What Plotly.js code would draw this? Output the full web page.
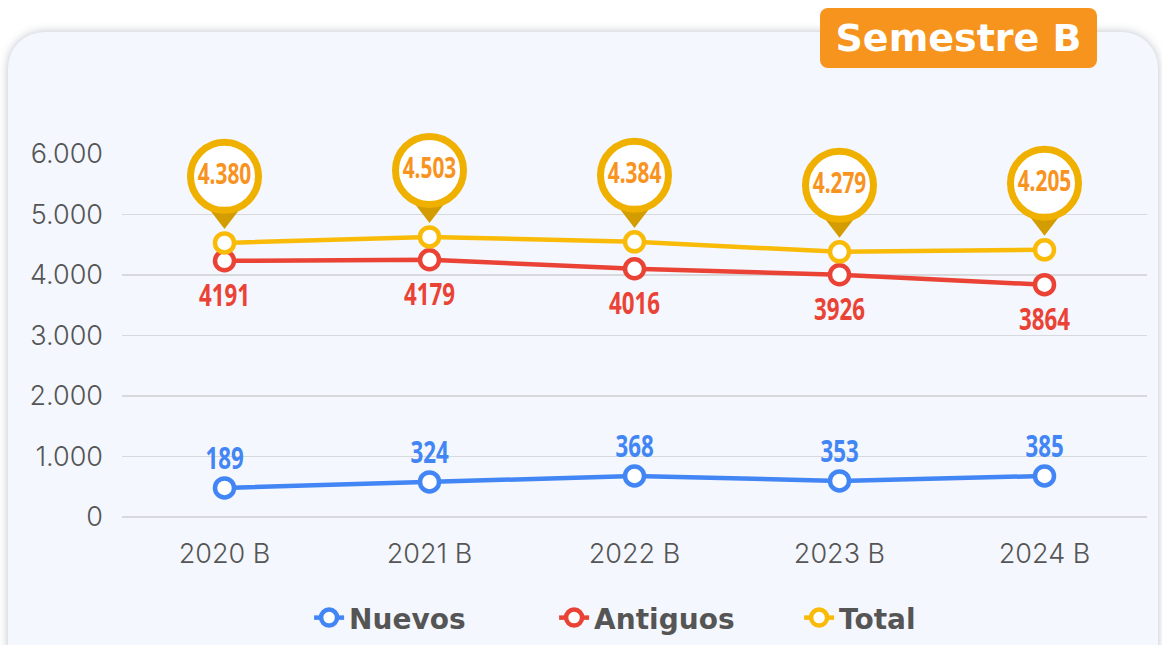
<!DOCTYPE html>
<html>
<head>
<meta charset="utf-8">
<script src="https://cdn.plot.ly/plotly-3.0.1.min.js"></script>
<style>
  html, body { margin:0; padding:0; background:#ffffff; width:1162px; height:645px; overflow:hidden; }
  #card { position:absolute; left:8px; top:32px; width:1150px; height:650px; border-radius:36px;
          background:#f4f7fd; box-shadow:0 0 10px rgba(70,80,100,0.35); }
  #chart { position:absolute; left:0; top:0; width:1162px; height:645px; }
  #badge { position:absolute; left:820px; top:8px; width:277px; height:60px; border-radius:8px;
           background:#f7941d; color:#ffffff; font-family:"DejaVu Sans", sans-serif; font-weight:bold;
           font-size:38px; line-height:60px; text-align:center; }
</style>
</head>
<body>
<div id="card"></div>
<div id="chart"></div>
<div id="badge">Semestre B</div>
<script>
// ---- data ----
const categories = ['2020 B', '2021 B', '2022 B', '2023 B', '2024 B'];
// plotted positions of the markers (y-axis units)
const nuevosPos   = [478, 577, 675, 593, 675];
const antiguosPos = [4234, 4250, 4102, 4003, 3839];
const totalPos    = [4530, 4629, 4547, 4382, 4415];
// value labels printed on the chart
const nuevosLabels   = ['189', '324', '368', '353', '385'];
const antiguosLabels = ['4191', '4179', '4016', '3926', '3864'];
const totalLabels    = ['4.380', '4.503', '4.384', '4.279', '4.205'];
const yTicks = [0, 1000, 2000, 3000, 4000, 5000, 6000];

// ---- styling ----
const BLUE = '#4285f4', RED = '#ea4335', GOLD = '#f9bb08', PIN = '#efb000', PIN_DARK = '#d39c00', ORANGE = '#f7931e';
const labelFont = '"Noto Sans", Roboto, sans-serif';
const axisFont = 'Inter, "DejaVu Sans", sans-serif';
const PIN_UP = 1100, TIP_UP = 446;
const CONDENSE = 0.72;

function series(name, y, color) {
  return {
    type: 'scatter', mode: 'lines+markers', name: name, x: categories, y: y,
    line: { color: color, width: 4.5 },
    marker: { size: 19, color: '#ffffff', line: { color: color, width: 4.5 } },
    cliponaxis: false, hoverinfo: 'skip'
  };
}

const traces = [
  series('Nuevos', nuevosPos, BLUE),
  series('Antiguos', antiguosPos, RED),
  series('Total', totalPos, GOLD),
  {
    type: 'scatter', mode: 'markers', showlegend: false, x: categories,
    y: totalPos.map(v => v + TIP_UP),
    marker: { symbol: 'triangle-down', size: 26, color: PIN_DARK, line: { width: 0 } },
    cliponaxis: false, hoverinfo: 'skip'
  },
  {
    type: 'scatter', mode: 'markers+text', showlegend: false, x: categories,
    y: totalPos.map(v => v + PIN_UP),
    text: totalLabels, textposition: 'middle center',
    textfont: { family: labelFont, size: 29, color: ORANGE, weight: 'bold' },
    marker: { symbol: 'circle', size: 68, color: '#ffffff', line: { color: PIN, width: 7 } },
    cliponaxis: false, hoverinfo: 'skip'
  }
];

const annotations = [];
categories.forEach((c, i) => {
  annotations.push({ x: c, y: nuevosPos[i], xref: 'x', yref: 'y', text: nuevosLabels[i], showarrow: false,
    yshift: 31, font: { family: labelFont, size: 31, color: BLUE, weight: 'bold' } });
  annotations.push({ x: c, y: antiguosPos[i], xref: 'x', yref: 'y', text: antiguosLabels[i], showarrow: false,
    yshift: -33, font: { family: labelFont, size: 31, color: RED, weight: 'bold' } });
});

const layout = {
  width: 1162, height: 645,
  margin: { l: 122, r: 15, t: 154, b: 127 },
  paper_bgcolor: 'rgba(0,0,0,0)', plot_bgcolor: 'rgba(0,0,0,0)',
  separators: ',.',
  showlegend: true,
  legend: {
    orientation: 'h', xref: 'container', yref: 'container',
    x: 0.266, xanchor: 'left', y: 0.042, yanchor: 'middle',
    entrywidth: 200, entrywidthmode: 'pixels',
    font: { family: '"DejaVu Sans", sans-serif', size: 28, color: '#555555', weight: 'bold' },
    bgcolor: 'rgba(0,0,0,0)'
  },
  xaxis: {
    type: 'category', range: [-0.5, 4.5], showgrid: false, zeroline: false, showline: false,
    ticks: '', ticklabelstandoff: 17,
    tickfont: { family: axisFont, size: 27, color: '#555555', weight: 300 }
  },
  yaxis: {
    range: [-20, 6000], tickvals: yTicks, tickformat: ',d', showgrid: true, gridcolor: '#d8d9dc', gridwidth: 1.6,
    zeroline: false, showline: false, ticks: '', ticklabelstandoff: 18,
    tickfont: { family: axisFont, size: 27, color: '#555555', weight: 300 }
  },
  annotations: annotations
};

Plotly.newPlot('chart', traces, layout, { displayModeBar: false, staticPlot: true }).then(() => {
  // narrow the value labels horizontally (condensed look), keeping each centred in place
  document.querySelectorAll('#chart .annotation-text, #chart .textpoint text').forEach(el => {
    const bb = el.getBBox();
    const cx = bb.x + bb.width / 2;
    const prev = el.getAttribute('transform') || '';
    el.setAttribute('transform', prev + ' translate(' + (cx * (1 - CONDENSE)) + ',0) scale(' + CONDENSE + ',1)');
  });
});
</script>
</body>
</html>
